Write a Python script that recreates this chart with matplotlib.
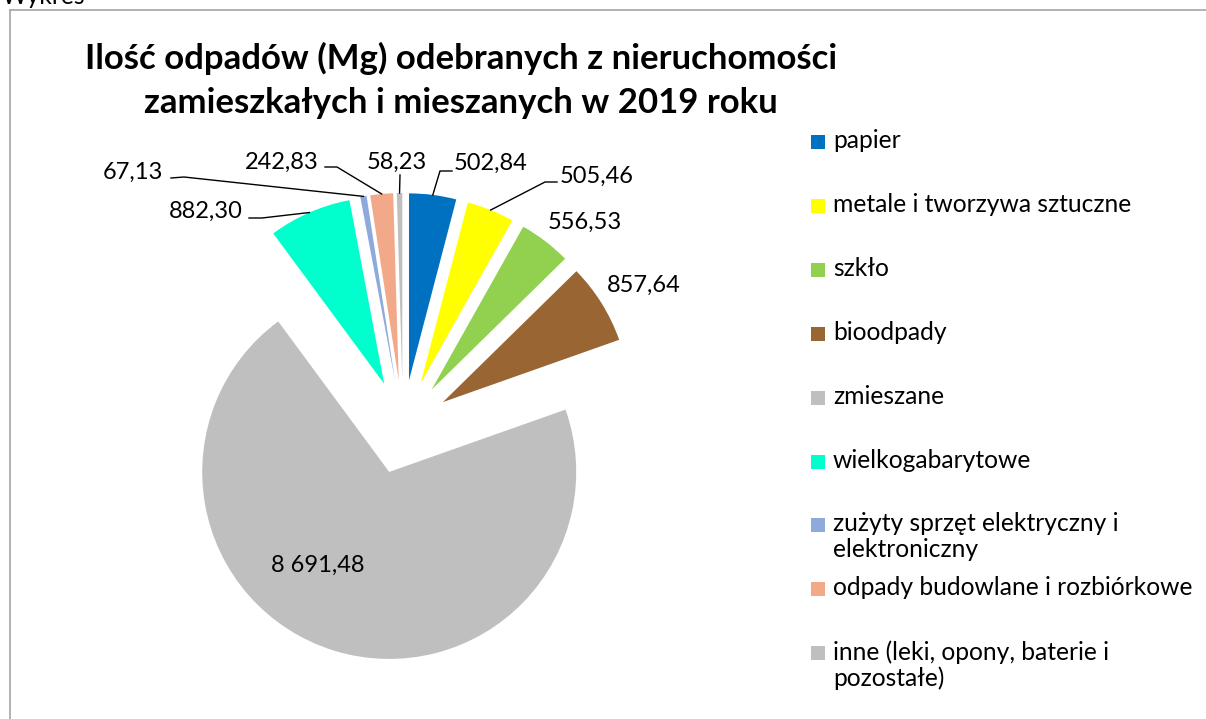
import numpy as np
import matplotlib.pyplot as plt
from matplotlib.patches import Rectangle

plt.rcParams['font.family'] = ['Lato', 'DejaVu Sans']

W, H = 1206, 719

categories = ['papier', 'metale i tworzywa sztuczne', 'szkło', 'bioodpady', 'zmieszane',
              'wielkogabarytowe', 'zużyty sprzęt elektryczny i\nelektroniczny',
              'odpady budowlane i rozbiórkowe', 'inne (leki, opony, baterie i\npozostałe)']
values = [502.84, 505.46, 556.53, 857.64, 8691.48, 882.30, 67.13, 242.83, 58.23]
value_labels = ['502,84', '505,46', '556,53', '857,64', '8 691,48', '882,30', '67,13', '242,83', '58,23']
colors = ['#0070C0', '#FFFF00', '#92D050', '#996633', '#BFBFBF',
          '#00FFCC', '#8EA9DB', '#F2A98A', '#BFBFBF']

# położenie etykiet (piksele od lewego górnego rogu)
label_pos = [(491, 163), (597, 176), (585, 222), (644, 285), (318, 565),
             (206, 211), (133, 172), (282, 162), (397, 162)]
# linie odniesienia: punkty od strony etykiety, ostatni punkt to krawędź wycinka
leader_pts = [[(452, 171), (440, 171)], [(557, 182), (545, 182)], None, None, None,
              [(249, 218), (262, 218)], [(171, 178), (184, 177)],
              [(325, 167), (337, 167)], [(400, 175)]]


def px(x, y):
    return x, H - y


fig = plt.figure(figsize=(W / 100, H / 100), dpi=100)
ax = fig.add_axes([0, 0, 1, 1])

# explode w jednostkach danych (tu piksele)
wedges, _ = ax.pie(values, colors=colors, startangle=90, counterclock=False,
                   center=px(403, 427), radius=187, explode=[47] * len(values),
                   wedgeprops=dict(linewidth=0), frame=True)
ax.set_xlim(0, W)
ax.set_ylim(0, H)
ax.set_aspect('equal')
ax.axis('off')

for w, txt, pos, pts in zip(wedges, value_labels, label_pos, leader_pts):
    ax.text(*px(*pos), txt, ha='center', va='center', fontsize=17, color='black')
    if pts is None:
        continue
    mid = np.deg2rad((w.theta1 + w.theta2) / 2)
    cx, cy = w.center
    anchor = (cx + w.r * np.cos(mid), cy + w.r * np.sin(mid))
    line = [px(*p) for p in pts] + [anchor]
    ax.plot([p[0] for p in line], [p[1] for p in line], color='black', lw=1.0)

# tytuł
ax.text(*px(461, 58), 'Ilość odpadów (Mg) odebranych z nieruchomości',
        ha='center', va='center', fontsize=25, fontweight='bold')
ax.text(*px(461, 103), 'zamieszkałych i mieszanych w 2019 roku',
        ha='center', va='center', fontsize=25, fontweight='bold')

# legenda
step = 63.9
for i, (name, col) in enumerate(zip(categories, colors)):
    y = 142 + i * step
    ax.add_patch(Rectangle(px(811, y + 7), 14, 14, color=col, lw=0))
    ax.text(*px(833, y - 13), name, ha='left', va='top', fontsize=17.7,
            linespacing=1.15)

# ramka wykresu
ax.plot([9.5, W], [H - 9.5, H - 9.5], color='#A6A6A6', lw=1.2)
ax.plot([9.5, 9.5], [H - 9.5, 0], color='#A6A6A6', lw=1.2)
ax.text(*px(2, 4), 'Wykres', ha='left', va='baseline', fontsize=17.7)

fig.savefig('out.png', dpi=100)
